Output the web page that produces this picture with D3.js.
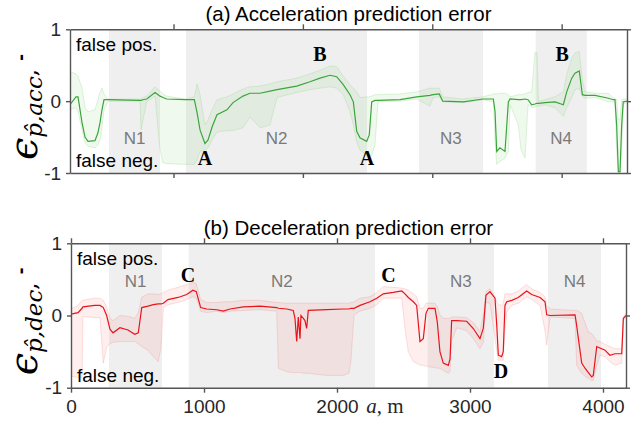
<!DOCTYPE html>
<html>
<head>
<meta charset="utf-8">
<script src="https://cdn.jsdelivr.net/npm/d3@7"></script>
<style>
  body { margin: 0; background: #fff; }
  svg { display: block; }
  text { font-family: "Liberation Sans", Arial, sans-serif; fill: #262626; }
</style>
</head>
<body>
<div id="chart"></div>
<script>
const width = 639, height = 423;

// (a) acceleration prediction error: distance, median error, band upper/lower
const accX = [200,246,262,293,316,339,393,416,432,447,
  463,494,741,749,764,793,857,896,919,947,
  1089,1161,1182,1205,1243,1267,1298,1336,1413,1460,
  1537,1591,1669,1746,1800,1952,2055,2132,2210,2261,
  2312,2364,2390,2416,2441,2493,2513,2532,2557,2581,
  2751,2880,2982,3006,3054,3081,3240,3394,3472,3485,
  3498,3523,3562,3588,3601,3665,3686,3717,3740,3768,
  3794,3809,3821,3871,3949,4013,4039,4078,4103,4136,
  4160,4180,4258,4361,4399,4412,4425,4438,4451,4464,
  4476,4505];
const accMid = [-0.05,0.06,0.06,-0.30,-0.50,-0.56,-0.55,-0.44,-0.30,-0.12,
  0.02,0.02,0.01,0.01,0.02,0.03,0.12,0.07,0.05,0.03,
  0.02,0.02,-0.16,-0.40,-0.59,-0.54,-0.36,-0.19,-0.12,-0.02,
  0.07,0.11,0.11,0.14,0.16,0.21,0.27,0.32,0.36,0.34,
  0.23,0.09,-0.01,-0.42,-0.51,-0.56,-0.47,-0.01,0.01,0.01,
  0.02,0.06,0.08,0.09,0.10,0.00,-0.01,0.03,0.03,-0.14,
  -0.70,-0.65,-0.70,-0.01,0.03,0.02,0.02,0.03,0.02,-0.05,
  -0.04,-0.03,-0.03,-0.02,-0.01,-0.05,0.13,0.32,0.39,0.42,
  0.09,0.08,0.08,0.04,0.02,0.02,-0.33,-0.98,-0.98,-0.33,
  -0.01,0.00];
const accUpper = [0.41,0.38,0.35,0.18,-0.09,-0.15,-0.12,0.02,0.13,0.18,
  0.10,0.03,0.03,0.03,0.05,0.07,0.20,0.14,0.10,0.07,
  0.03,0.06,0.24,0.09,-0.33,-0.26,-0.12,0.02,0.06,0.10,
  0.17,0.20,0.21,0.24,0.27,0.32,0.38,0.43,0.49,0.48,
  0.35,0.23,0.18,0.13,0.05,0.06,0.06,0.07,0.09,0.09,
  0.10,0.13,0.18,0.18,0.18,0.06,0.03,0.06,0.10,0.10,
  0.10,0.11,0.11,0.09,0.06,0.09,0.09,0.10,0.12,0.13,
  0.68,0.68,0.00,0.02,0.06,0.13,0.37,0.60,0.67,0.69,
  0.30,0.13,0.11,0.11,0.04,0.03,0.02,-0.26,-0.26,0.02,
  0.03,0.03];
const accLower = [-0.12,-0.09,-0.15,-0.40,-0.58,-0.63,-0.65,-0.61,-0.54,-0.37,
  -0.12,0.00,0.00,-0.40,-0.26,-0.01,0.07,-0.68,-0.86,-0.87,
  -0.88,-0.88,-0.82,-0.70,-0.68,-0.65,-0.54,-0.43,-0.41,-0.41,
  -0.37,-0.22,-0.37,-0.33,0.05,0.12,0.16,0.18,0.20,0.18,
  0.09,-0.15,-0.33,-0.57,-0.68,-0.75,-0.76,-0.76,-0.61,-0.01,
  0.00,0.03,-0.07,0.05,0.06,-0.01,-0.02,0.02,-0.01,-0.56,
  -0.88,-0.84,-0.79,-0.70,-0.05,-0.33,-0.68,-0.79,-0.05,-0.09,
  -0.08,-0.07,-0.07,-0.05,-0.09,-0.21,-0.09,0.05,0.16,0.18,
  0.07,0.04,0.05,-0.01,-0.01,0.00,-0.68,-1.00,-1.00,-0.68,
  -0.04,-0.02];

// (b) deceleration prediction error
const decX = [0,53,83,90,178,218,243,268,293,316,
  368,429,479,506,532,579,619,656,677,694,
  729,805,870,917,942,975,1020,1096,1145,1196,
  1296,1421,1547,1559,1622,1671,1684,1697,1709,1722,
  1729,1747,1759,1772,1784,1923,2047,2090,2105,2128,
  2173,2248,2299,2348,2423,2487,2511,2536,2574,2599,
  2624,2649,2669,2687,2737,2754,2774,2799,2837,2850,
  2862,2900,2975,3025,3075,3100,3120,3150,3188,3201,
  3213,3238,3250,3263,3276,3314,3363,3426,3464,3527,
  3564,3577,3602,3790,3802,3815,3840,3865,3890,3915,
  3927,3953,3977,4015,4052,4090,4141,4153,4173];
const decMid = [0.02,0.04,0.10,0.12,0.14,0.14,0.11,0.00,-0.19,-0.24,
  -0.17,-0.20,-0.26,-0.24,0.11,0.13,0.15,0.16,0.16,0.17,
  0.22,0.25,0.29,0.35,0.33,0.11,0.09,0.08,0.06,0.09,
  0.12,0.13,0.11,0.10,0.09,0.07,-0.04,-0.36,-0.02,-0.32,
  0.00,-0.04,-0.07,-0.18,0.07,0.08,0.09,0.09,0.10,0.10,
  0.14,0.19,0.24,0.30,0.32,0.34,0.30,0.25,0.19,0.14,
  -0.36,-0.32,0.03,0.10,0.10,-0.09,-0.50,-0.66,-0.69,-0.60,
  -0.07,-0.07,-0.08,-0.18,-0.32,-0.18,0.28,0.33,0.24,-0.13,
  -0.55,-0.57,-0.50,0.14,0.19,0.21,0.25,0.34,0.29,0.25,
  0.19,0.01,0.00,0.01,-0.14,-0.32,-0.66,-0.73,-0.79,-0.85,
  -0.83,-0.43,-0.45,-0.48,-0.55,-0.53,-0.53,-0.04,0.00];
const decUpper = [0.09,0.14,0.21,0.21,0.24,0.24,0.21,0.12,-0.04,-0.07,
  0.00,-0.01,-0.04,0.04,0.25,0.30,0.30,0.29,0.30,0.32,
  0.35,0.39,0.43,0.46,0.44,0.22,0.18,0.18,0.19,0.19,
  0.21,0.21,0.18,0.18,0.17,0.17,0.17,0.17,0.17,0.17,
  0.17,0.17,0.17,0.17,0.17,0.17,0.17,0.17,0.18,0.19,
  0.24,0.26,0.32,0.40,0.39,0.38,0.37,0.35,0.30,0.26,
  0.10,0.10,0.17,0.17,0.17,0.12,0.01,-0.04,-0.04,-0.04,
  -0.02,-0.02,-0.03,-0.10,-0.22,0.00,0.33,0.37,0.26,0.19,
  0.15,0.14,0.17,0.30,0.30,0.30,0.34,0.43,0.37,0.32,
  0.26,0.14,0.09,0.07,0.07,0.06,0.03,-0.10,-0.23,-0.25,
  -0.28,-0.35,-0.36,-0.40,-0.43,-0.46,-0.46,-0.02,0.03];
const decLower = [-0.84,-0.86,-0.86,-0.01,-0.03,-0.03,-0.66,-0.44,-0.39,-0.37,
  -0.36,-0.36,-0.36,-0.39,-0.43,-0.48,-0.57,-0.64,-0.44,0.11,
  0.15,0.18,0.22,0.26,0.24,0.06,0.04,0.06,0.04,0.06,
  0.07,0.08,0.06,-0.73,-0.78,-0.79,-0.79,-0.79,-0.79,-0.79,
  -0.79,-0.80,-0.80,-0.80,-0.80,-0.83,-0.83,-0.80,-0.62,0.01,
  0.06,0.10,0.15,0.24,0.24,0.24,-0.18,-0.50,-0.64,-0.66,
  -0.69,-0.69,-0.70,-0.71,-0.72,-0.73,-0.73,-0.76,-0.80,-0.78,
  -0.35,-0.17,-0.21,-0.32,-0.46,-0.37,0.18,0.17,-0.32,-0.48,
  -0.62,-0.62,-0.62,-0.21,0.05,0.14,0.17,0.26,0.22,0.14,
  -0.21,-0.41,-0.02,-0.04,-0.69,-0.73,-0.80,-0.84,-0.87,-0.90,
  -0.90,-0.69,-0.55,-0.57,-0.64,-0.69,-0.66,-0.07,-0.02];

// shaded sections
const zoneNames = ["N1", "N2", "N3", "N4"];
const accZones = [[501, 896], [1097, 2496], [2897, 3392], [3799, 4194]];
const decZones = [[286, 684], [885, 2286], [2682, 3180], [3587, 3985]];

// letter annotations
const accMarks = [["A", 1243, -0.885], ["A", 2496, -0.885], ["B", 2132, 0.56], ["B", 4003, 0.56]];
const decMarks = [["C", 880, 0.46], ["C", 2387, 0.46], ["D", 3233, -0.87]];

const accTicks = [1000, 2000, 3000, 4000];
const decTicks = [0, 1000, 2000, 3000, 4000];
const yTicks = [-1, 0, 1];

const svg = d3.select("#chart").append("svg")
  .attr("width", width)
  .attr("height", height);

const panels = [
  {
    id: "acc", title: "(a) Acceleration prediction error", sub: "p\u0302,acc",
    xs: accX, mid: accMid, up: accUpper, lo: accLower,
    zones: accZones, zoneY: -0.6, marks: accMarks, ticks: accTicks, tickLabels: false,
    domain: [200, 4505], left: 70, right: 627, top: 29.3, bottom: 173,
    line: "#3ba53b", band: "rgba(160,220,150,0.16)", edge: "rgba(150,215,140,0.3)"
  },
  {
    id: "dec", title: "(b) Deceleration prediction error", sub: "p\u0302,dec",
    xs: decX, mid: decMid, up: decUpper, lo: decLower,
    zones: decZones, zoneY: 0.39, marks: decMarks, ticks: decTicks, tickLabels: true,
    domain: [0, 4173], left: 71, right: 626, top: 243.3, bottom: 387.7,
    line: "#e8141c", band: "rgba(245,120,120,0.13)", edge: "rgba(240,120,120,0.22)"
  }
];

panels.forEach(p => {
  const g = svg.append("g");
  const x = d3.scaleLinear().domain(p.domain).range([p.left, p.right]);
  const y = d3.scaleLinear().domain([-1, 1]).range([p.bottom, p.top]);

  g.append("clipPath").attr("id", "clip-" + p.id)
    .append("rect")
    .attr("x", p.left).attr("y", p.top)
    .attr("width", p.right - p.left).attr("height", p.bottom - p.top);

  const plot = g.append("g").attr("clip-path", `url(#clip-${p.id})`);

  plot.selectAll("rect.zone")
    .data(p.zones)
    .join("rect")
    .attr("class", "zone")
    .attr("x", d => x(d[0]))
    .attr("width", d => x(d[1]) - x(d[0]))
    .attr("y", p.top)
    .attr("height", p.bottom - p.top)
    .attr("fill", "#efefef");

  const rows = p.xs.map((v, i) => ({ x: v, m: p.mid[i], u: p.up[i], l: p.lo[i] }));

  plot.append("path")
    .datum(rows)
    .attr("d", d3.area().x(d => x(d.x)).y0(d => y(d.l)).y1(d => y(d.u)))
    .attr("fill", p.band);

  ["u", "l"].forEach(k => {
    plot.append("path")
      .datum(rows)
      .attr("d", d3.line().x(d => x(d.x)).y(d => y(d[k])))
      .attr("fill", "none")
      .attr("stroke", p.edge)
      .attr("stroke-width", 1);
  });

  plot.append("path")
    .datum(rows)
    .attr("d", d3.line().x(d => x(d.x)).y(d => y(d.m)))
    .attr("fill", "none")
    .attr("stroke", p.line)
    .attr("stroke-width", 1.2);

  // zone names
  plot.selectAll("text.zn")
    .data(p.zones)
    .join("text")
    .attr("class", "zn")
    .attr("x", d => x((d[0] + d[1]) / 2))
    .attr("y", y(p.zoneY))
    .attr("text-anchor", "middle")
    .style("fill", "#7a7a7a")
    .style("font-size", "17px")
    .text((d, i) => zoneNames[i]);

  // letters
  g.selectAll("text.mk")
    .data(p.marks)
    .join("text")
    .attr("class", "mk")
    .attr("x", d => x(d[1]))
    .attr("y", d => y(d[2]))
    .attr("text-anchor", "middle")
    .style("font-family", "'Liberation Serif', 'DejaVu Serif', serif")
    .style("font-weight", "bold")
    .style("font-size", "20px")
    .style("fill", "#000")
    .text(d => d[0]);

  g.append("text").attr("x", p.left + 6).attr("y", p.top + 22)
    .style("font-size", "19px").style("fill", "#000").text("false pos.");
  g.append("text").attr("x", p.left + 6).attr("y", p.bottom - 6)
    .style("font-size", "19px").style("fill", "#000").text("false neg.");

  // axes
  const axes = [
    g.append("g").attr("transform", `translate(0,${p.bottom})`)
      .call(d3.axisBottom(x).tickValues(p.ticks).tickSize(5).tickSizeOuter(0)
        .tickFormat(p.tickLabels ? d => String(d) : () => "")),
    g.append("g").attr("transform", `translate(0,${p.top})`)
      .call(d3.axisTop(x).tickValues(p.ticks).tickSize(5).tickSizeOuter(0).tickFormat(() => "")),
    g.append("g").attr("transform", `translate(${p.left},0)`)
      .call(d3.axisLeft(y).tickValues(yTicks).tickSize(4).tickSizeOuter(0).tickFormat(d => String(d))),
    g.append("g").attr("transform", `translate(${p.right},0)`)
      .call(d3.axisRight(y).tickValues(yTicks).tickSize(4).tickSizeOuter(0).tickFormat(() => ""))
  ];
  axes.forEach(a => {
    a.select(".domain").attr("stroke", "#555").attr("stroke-width", 1.4);
    a.selectAll(".tick line").attr("stroke", "#555").attr("stroke-width", 1.4);
    a.selectAll(".tick text")
      .style("font-family", "'Liberation Sans', Arial, sans-serif")
      .style("font-size", "19px")
      .style("fill", "#262626");
  });
  axes[0].selectAll(".tick text").attr("dy", "0.9em");
  axes[2].selectAll(".tick text").attr("dx", "-0.1em");

  // title
  g.append("text")
    .attr("x", (p.left + p.right) / 2)
    .attr("y", p.top - 8)
    .attr("text-anchor", "middle")
    .style("font-size", "20.5px")
    .style("fill", "#000")
    .text(p.title);

  // y label
  const yl = g.append("text")
    .attr("transform", `translate(37,${(p.top + p.bottom) / 2 + 6}) rotate(-90)`)
    .attr("text-anchor", "middle")
    .style("fill", "#000");
  yl.append("tspan")
    .style("font-family", "'DejaVu Serif', serif").style("font-style", "italic")
    .style("font-size", "40px").text("\u03f5");
  yl.append("tspan").attr("dy", 5)
    .style("font-family", "'DejaVu Serif', serif").style("font-style", "italic")
    .style("font-size", "23px").text(p.sub);
  yl.append("tspan").attr("dy", -5)
    .style("font-family", "'DejaVu Serif', serif")
    .style("font-size", "23px").text(",");
  yl.append("tspan").attr("dy", -10).attr("dx", 8)
    .style("font-weight", "bold")
    .style("font-size", "20px").text("-");
});

// x axis label
const xl = svg.append("text")
  .attr("x", 385).attr("y", 413)
  .attr("text-anchor", "middle")
  .style("font-family", "'Liberation Serif', 'DejaVu Serif', serif")
  .style("font-size", "21px")
  .style("fill", "#262626");
xl.append("tspan").style("font-style", "italic").text("a");
xl.append("tspan").text(", m");
</script>
</body>
</html>
